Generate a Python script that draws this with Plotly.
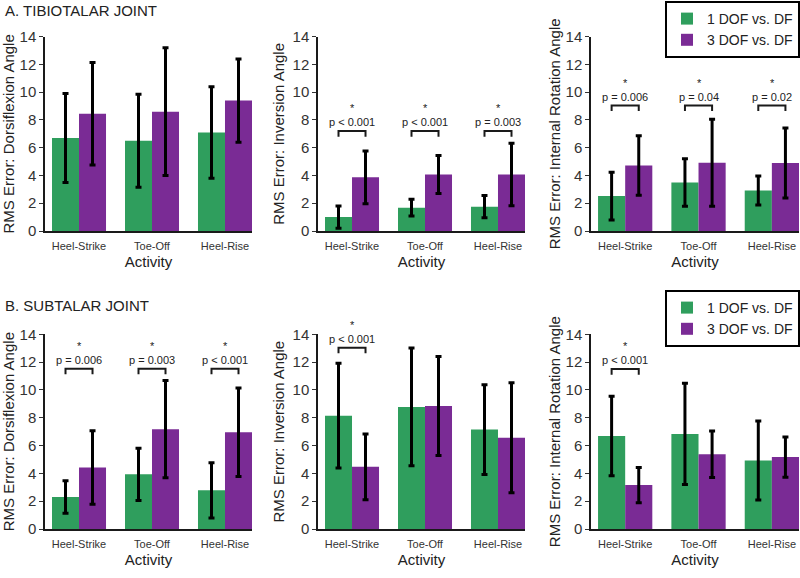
import plotly.graph_objects as go

# ---------------- data ----------------
activities = ["Heel-Strike", "Toe-Off", "Heel-Rise"]
series_names = ["1 DOF vs. DF", "3 DOF vs. DF"]

tt_dors_1dof = [6.7, 6.5, 7.1]
tt_dors_1dof_sd = [3.2, 3.35, 3.3]
tt_dors_3dof = [8.45, 8.6, 9.4]
tt_dors_3dof_sd = [3.7, 4.6, 3.0]

tt_inv_1dof = [1.0, 1.68, 1.75]
tt_inv_1dof_sd = [0.8, 0.6, 0.8]
tt_inv_3dof = [3.87, 4.07, 4.07]
tt_inv_3dof_sd = [1.9, 1.37, 2.25]

tt_rot_1dof = [2.52, 3.5, 2.92]
tt_rot_1dof_sd = [1.72, 1.71, 1.05]
tt_rot_3dof = [4.72, 4.92, 4.9]
tt_rot_3dof_sd = [2.15, 3.13, 2.53]

st_dors_1dof = [2.3, 3.93, 2.78]
st_dors_1dof_sd = [1.17, 1.88, 1.99]
st_dors_3dof = [4.42, 7.18, 6.96]
st_dors_3dof_sd = [2.64, 3.5, 3.18]

st_inv_1dof = [8.15, 8.78, 7.15]
st_inv_1dof_sd = [3.77, 4.23, 3.23]
st_inv_3dof = [4.47, 8.85, 6.56]
st_inv_3dof_sd = [2.37, 3.56, 3.96]

st_rot_1dof = [6.68, 6.84, 4.92]
st_rot_1dof_sd = [2.86, 3.64, 2.84]
st_rot_3dof = [3.16, 5.38, 5.17]
st_rot_3dof_sd = [1.27, 1.67, 1.45]

tt_dors_p = [None, None, None]
tt_inv_p = ["p < 0.001", "p < 0.001", "p = 0.003"]
tt_rot_p = ["p = 0.006", "p = 0.04", "p = 0.02"]
st_dors_p = ["p = 0.006", "p = 0.003", "p < 0.001"]
st_inv_p = ["p < 0.001", None, None]
st_rot_p = ["p < 0.001", None, None]

# bracket heights (data units) per panel
bracket_levels = [None, 7.2, 9.04, 11.53, 13.04, 11.5]

y_titles = ["RMS Error: Dorsiflexion Angle", "RMS Error: Inversion Angle",
            "RMS Error: Internal Rotation Angle"]
panel_titles = ["A. TIBIOTALAR JOINT", "B. SUBTALAR JOINT"]
x_title = "Activity"
y_ticks = [0, 2, 4, 6, 8, 10, 12, 14]

# ---------------- styling ----------------
W, H = 800, 578
GREEN = "#2f9e5d"
PURPLE = "#7a2b95"
FONT = "Liberation Sans, Arial, sans-serif"
BARGAP = 0.26
half = (1 - BARGAP) / 4.0  # offset of each bar centre from group centre

panels = [
    (tt_dors_1dof, tt_dors_1dof_sd, tt_dors_3dof, tt_dors_3dof_sd, tt_dors_p),
    (tt_inv_1dof, tt_inv_1dof_sd, tt_inv_3dof, tt_inv_3dof_sd, tt_inv_p),
    (tt_rot_1dof, tt_rot_1dof_sd, tt_rot_3dof, tt_rot_3dof_sd, tt_rot_p),
    (st_dors_1dof, st_dors_1dof_sd, st_dors_3dof, st_dors_3dof_sd, st_dors_p),
    (st_inv_1dof, st_inv_1dof_sd, st_inv_3dof, st_inv_3dof_sd, st_inv_p),
    (st_rot_1dof, st_rot_1dof_sd, st_rot_3dof, st_rot_3dof_sd, st_rot_p),
]

x_px = [(45, 252), (318, 525), (591, 799)]
y_px = [(36.7, 231), (334.3, 529)]
standoffs = [8, 4, 1]

fig = go.Figure()
layout = {}
annotations = []
shapes = []
xs = list(range(len(activities)))

for k, (g, gsd, p, psd, ptxt) in enumerate(panels):
    row, col = divmod(k, 3)
    n = k + 1
    xa = "x" if n == 1 else f"x{n}"
    ya = "y" if n == 1 else f"y{n}"
    leg = "legend"
    show = False
    if k == 2:
        leg, show = "legend", True
    elif k == 5:
        leg, show = "legend2", True
    for vals, sd, name, color in ((g, gsd, series_names[0], GREEN),
                                  (p, psd, series_names[1], PURPLE)):
        fig.add_trace(go.Bar(
            x=xs, y=vals, name=name, marker=dict(color=color, line=dict(width=0)),
            error_y=dict(type="data", array=sd, visible=True, color="black",
                         thickness=3, width=3),
            xaxis=xa, yaxis=ya, offsetgroup=name, showlegend=show,
            legend=leg,
        ))
    x0p, x1p = x_px[col]
    y0p, y1p = y_px[row]
    layout[f"xaxis{'' if n == 1 else n}"] = dict(
        domain=[x0p / W, x1p / W], anchor=ya, range=[-0.466, 2.37],
        tickvals=xs, ticktext=activities, ticks="", showline=True,
        linecolor="#1a1a1a", linewidth=1.5, showgrid=False, zeroline=False,
        tickfont=dict(size=11, color="#333333", family=FONT),
        ticklabelstandoff=4, automargin=False,
        title=dict(text=x_title, font=dict(size=15, color="#222222", family=FONT),
                   standoff=6),
    )
    layout[f"yaxis{'' if n == 1 else n}"] = dict(
        domain=[1 - y1p / H, 1 - y0p / H], anchor=xa, range=[0, 14],
        tickvals=y_ticks, ticks="outside", ticklen=4, tickwidth=1,
        tickcolor="#333333", showline=True, linecolor="#1a1a1a", linewidth=1.5,
        showgrid=False, zeroline=False, automargin=False,
        tickfont=dict(size=15, color="#333333", family=FONT),
        title=dict(text=y_titles[col], font=dict(size=15, color="#222222", family=FONT),
                   standoff=standoffs[col]),
    )
    lvl = bracket_levels[k]
    for i, t in enumerate(ptxt):
        if t is None:
            continue
        xl, xr = i - half, i + half
        shapes.append(dict(
            type="path", xref=xa, yref=ya,
            path=f"M {xl},{lvl - 0.4} L {xl},{lvl} L {xr},{lvl} L {xr},{lvl - 0.4}",
            line=dict(color="#1a1a1a", width=2),
        ))
        annotations.append(dict(
            x=i, y=lvl, xref=xa, yref=ya, text="*<br>" + t, showarrow=False,
            yshift=1, yanchor="bottom", align="center",
            font=dict(size=11, color="#222222", family=FONT),
        ))

annotations.append(dict(x=3 / W, y=1 - 10 / H, xref="paper", yref="paper",
                        xanchor="left", yanchor="middle", text=panel_titles[0],
                        showarrow=False,
                        font=dict(size=15, color="#222222", family=FONT)))
annotations.append(dict(x=3 / W, y=1 - 305.8 / H, xref="paper", yref="paper",
                        xanchor="left", yanchor="middle", text=panel_titles[1],
                        showarrow=False,
                        font=dict(size=15, color="#222222", family=FONT)))

legend_style = dict(bordercolor="black", borderwidth=2, bgcolor="white",
                    font=dict(size=14, color="#222222", family=FONT),
                    xanchor="right", yanchor="top", tracegroupgap=0,
                    itemsizing="constant")

fig.update_layout(
    width=W, height=H, margin=dict(l=0, r=0, t=0, b=0, autoexpand=False),
    paper_bgcolor="white", plot_bgcolor="white",
    barmode="group", bargap=BARGAP, bargroupgap=0,
    font=dict(family=FONT),
    annotations=annotations, shapes=shapes,
    legend=dict(x=1.0, y=1 - 1 / H, **legend_style),
    legend2=dict(x=1.0, y=1 - 290 / H, **legend_style),
    **layout,
)

fig.write_html("out.html", config={"displayModeBar": False},
               post_script="document.body.style.margin='0px';")
